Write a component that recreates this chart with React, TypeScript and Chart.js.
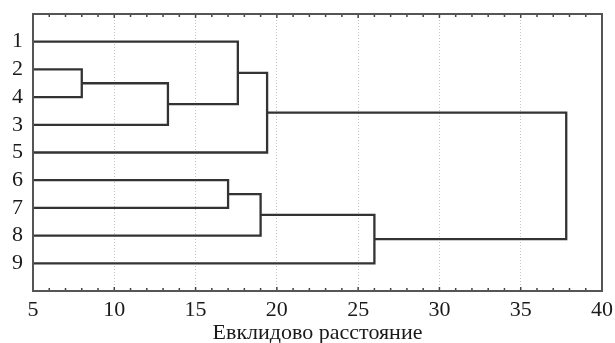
import React, { useEffect, useRef } from "react";
import { Chart, registerables } from "chart.js";

Chart.register(...registerables);

// Leaves in display order (top to bottom)
const leafLabels = ["1", "2", "4", "3", "5", "6", "7", "8", "9"];
// Merges: node ids 0..8 are leaves, merge k creates node 9+k
const mergeA = [1, 9, 0, 11, 5, 13, 14, 12];
const mergeB = [2, 3, 10, 4, 6, 7, 8, 15];
const mergeDist = [8.0, 13.3, 17.6, 19.4, 17.0, 19.0, 26.0, 37.8];
const xTicks = [5, 10, 15, 20, 25, 30, 35, 40];
const xTitle = "Евклидово расстояние";

const X_MIN = 5;
const X_MAX = 40;

const FONT = "'Liberation Serif', 'Times New Roman', serif";

function buildDatasets() {
  const nodeX: number[] = [];
  const nodeY: number[] = [];
  leafLabels.forEach((_, i) => {
    nodeX.push(X_MIN);
    nodeY.push(i + 1);
  });
  const sets: any[] = [];
  mergeDist.forEach((d, k) => {
    const a = mergeA[k];
    const b = mergeB[k];
    sets.push({
      data: [
        { x: nodeX[a], y: nodeY[a] },
        { x: d, y: nodeY[a] },
        { x: d, y: nodeY[b] },
        { x: nodeX[b], y: nodeY[b] },
      ],
      showLine: true,
      borderColor: "#333333",
      borderWidth: 2.3,
      pointRadius: 0,
      fill: false,
    });
    nodeX.push(d);
    nodeY.push((nodeY[a] + nodeY[b]) / 2);
  });
  return sets;
}

const framePlugin = {
  id: "framePlugin",
  afterDatasetsDraw(chart: any) {
    const { ctx, chartArea } = chart;
    const xs = chart.scales.x;
    ctx.save();
    ctx.strokeStyle = "#444";
    ctx.lineWidth = 1.5;
    for (let v = X_MIN; v <= X_MAX; v += 1) {
      const px = xs.getPixelForValue(v);
      const len = v % 5 === 0 ? 4 : 3;
      ctx.beginPath();
      ctx.moveTo(px, chartArea.bottom);
      ctx.lineTo(px, chartArea.bottom - len);
      ctx.moveTo(px, chartArea.top);
      ctx.lineTo(px, chartArea.top + len);
      ctx.stroke();
    }
    ctx.strokeStyle = "#555555";
    ctx.lineWidth = 2;
    ctx.strokeRect(
      chartArea.left,
      chartArea.top,
      chartArea.right - chartArea.left,
      chartArea.bottom - chartArea.top
    );
    ctx.restore();
  },
};

export default function App() {
  const ref = useRef<HTMLCanvasElement | null>(null);
  useEffect(() => {
    document.body.style.margin = "0";
    const canvas = ref.current;
    if (!canvas) return;
    const chart = new Chart(canvas, {
      type: "scatter",
      data: { datasets: buildDatasets() },
      options: {
        animation: false,
        responsive: false,
        maintainAspectRatio: false,
        layout: { padding: { top: 14, right: 13, left: 0, bottom: 0 } },
        plugins: { legend: { display: false }, tooltip: { enabled: false } },
        scales: {
          x: {
            type: "linear",
            min: X_MIN,
            max: X_MAX,
            afterBuildTicks: (scale: any) => {
              scale.ticks = xTicks.map((v) => ({ value: v }));
            },
            ticks: {
              font: { family: FONT, size: 22 },
              color: "#1a1a1a",
              padding: 6,
              maxRotation: 0,
            },
            grid: {
              color: (c: any) =>
                c.tick && (c.tick.value === X_MIN || c.tick.value === X_MAX)
                  ? "rgba(0,0,0,0)"
                  : "#c4c4c4",
              lineWidth: 1,
              drawTicks: false,
            },
            border: { display: false, dash: [1, 2] },
            title: {
              display: true,
              text: xTitle,
              font: { family: FONT, size: 22 },
              color: "#1a1a1a",
              padding: { top: 0, bottom: -3 },
            },
            afterFit: (scale: any) => {
              scale.height = 52;
              scale.paddingLeft = 0;
              scale.paddingRight = 0;
            },
          },
          y: {
            type: "linear",
            min: 0,
            max: 10,
            reverse: true,
            afterBuildTicks: (scale: any) => {
              scale.ticks = leafLabels.map((_, i) => ({ value: i + 1 }));
            },
            ticks: {
              font: { family: FONT, size: 22 },
              color: "#1a1a1a",
              padding: 10,
              callback: (v: any) => leafLabels[Number(v) - 1] ?? "",
            },
            grid: { display: false, drawTicks: false },
            border: { display: false },
            afterFit: (scale: any) => {
              scale.width = 33;
              scale.paddingTop = 0;
              scale.paddingBottom = 0;
            },
          },
        },
      },
      plugins: [framePlugin],
    });
    return () => chart.destroy();
  }, []);
  return (
    <div style={{ width: 615, height: 343, background: "#fff" }}>
      <canvas ref={ref} width={615} height={343} style={{ display: "block" }} />
    </div>
  );
}
